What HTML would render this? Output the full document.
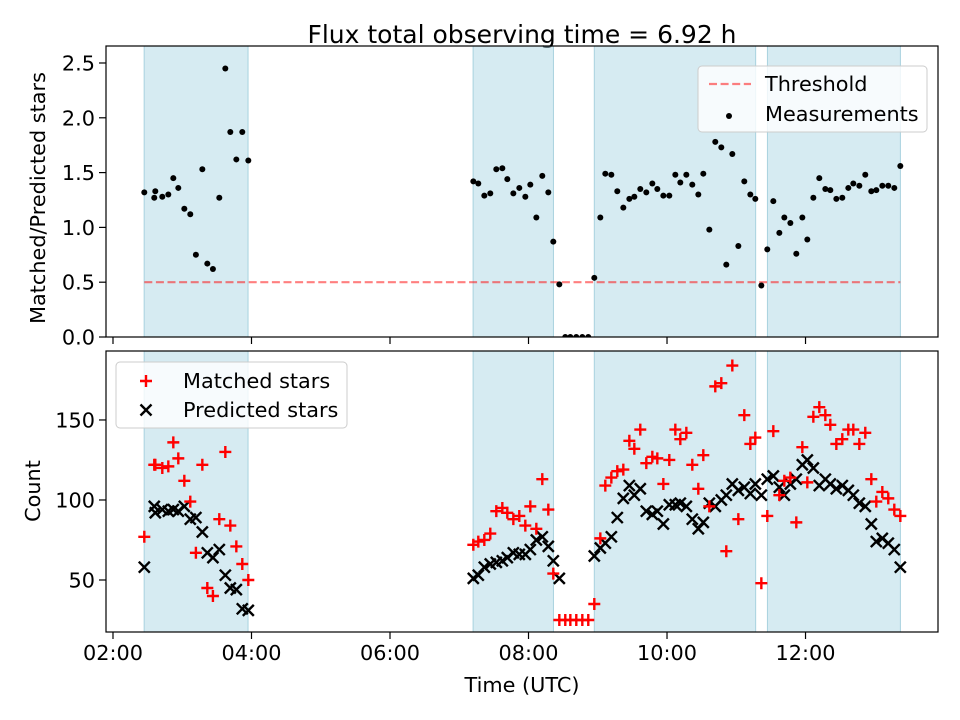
<!DOCTYPE html>
<html><head><meta charset="utf-8">
<style>
html,body{margin:0;padding:0;background:#fff;}
svg{display:block;font-family:"DejaVu Sans","Liberation Sans",sans-serif;}
</style></head>
<body>
<svg id="chart" width="960" height="720" viewBox="0 0 960 720" xmlns="http://www.w3.org/2000/svg">
<rect width="960" height="720" fill="#fff"/>
<text x="522" y="43" font-size="25" text-anchor="middle">Flux total observing time = 6.92 h</text>
<g id="topPanel"></g>
<g id="botPanel"></g>
<text transform="translate(45,198) rotate(-90)" font-size="20.8" text-anchor="middle">Matched/Predicted stars</text>
<text transform="translate(40,491) rotate(-90)" font-size="20.8" text-anchor="middle">Count</text>
<text x="522" y="692" font-size="20.8" text-anchor="middle">Time (UTC)</text>
</svg>
<script>
const times = [2.452,2.596,2.611,2.712,2.799,2.871,2.943,3.030,3.116,3.197,3.290,3.362,3.443,3.535,3.622,3.694,3.781,3.867,3.954,
7.203,7.275,7.362,7.448,7.535,7.622,7.694,7.781,7.867,7.954,8.026,8.113,8.199,8.286,8.358,8.445,8.531,8.604,8.690,8.777,8.863,
8.950,9.037,9.109,9.196,9.282,9.369,9.456,9.528,9.614,9.701,9.788,9.860,9.947,10.033,10.120,10.192,10.279,10.365,10.452,10.524,10.611,10.697,10.784,10.856,10.943,11.030,11.116,11.203,11.275,11.362,
11.448,11.535,11.622,11.694,11.781,11.867,11.954,12.026,12.113,12.199,12.286,12.358,12.445,12.531,12.618,12.690,12.777,12.863,12.950,13.022,13.109,13.195,13.282,13.369];
const ratios = [1.32,1.27,1.33,1.28,1.30,1.45,1.36,1.17,1.12,0.75,1.53,0.67,0.62,1.27,2.45,1.87,1.62,1.87,1.61,
1.42,1.40,1.29,1.31,1.53,1.54,1.44,1.31,1.36,1.28,1.39,1.09,1.47,1.32,0.87,0.48,0,0,0,0,0,
0.54,1.09,1.49,1.48,1.33,1.18,1.26,1.28,1.35,1.32,1.40,1.35,1.29,1.29,1.48,1.41,1.48,1.39,1.30,1.49,0.98,1.78,1.73,0.66,1.67,0.83,1.42,1.30,1.26,0.47,
0.80,1.24,0.95,1.09,1.04,0.76,1.09,0.89,1.27,1.45,1.35,1.34,1.26,1.27,1.36,1.40,1.38,1.48,1.33,1.34,1.38,1.38,1.36,1.56];
const matched = [77,122,122,120,121,136,126,112,99,67,122,45,40,88,130,84,71,60,50,
72,74,75,79,93,95,92,88,90,84,96,82,113,94,54,25,25,25,25,25,25,
35,76,109,114,118,119,137,132,144,123,127,126,110,125,144,138,142,122,107,128,96,171,173,68,184,88,153,135,139,48,
90,143,103,112,114,86,133,111,152,158,153,147,135,138,144,144,135,142,113,99,105,101,94,90];
const predicted = [58,96,92,94,93,94,93,96,88,89,80,67,64,69,53,45,44,32,31,
51,53,58,60,61,62,64,67,66,66,69,75,77,71,62,51,null,null,null,null,null,
65,70,73,77,89,101,109,103,107,93,91,93,85,97,97,98,96,88,82,86,98,96,100,103,110,106,108,104,110,103,
113,115,108,103,110,113,122,125,120,109,113,110,107,109,106,103,98,96,85,74,76,73,69,58];
const spanStarts = [2.45,7.2,8.95,11.45];
const spanEnds = [3.95,8.36,11.28,13.37];
const threshold = 0.5;
const xTickHours = [2,4,6,8,10,12];
const xTickLabels = ["02:00","04:00","06:00","08:00","10:00","12:00"];
const topTicks = [0,0.5,1,1.5,2,2.5];
const topTickLabels = ["0.0","0.5","1.0","1.5","2.0","2.5"];
const botTicks = [50,100,150];
const botTickLabels = ["50","100","150"];

const NS="http://www.w3.org/2000/svg";
const L=106,R=938, T1=46,B1=337, T2=351,B2=632;
const xMin=1.899,xMax=13.913;
const y1Min=0,y1Max=2.655, y2Min=17.5,y2Max=193.1;
const X=h=>L+(h-xMin)/(xMax-xMin)*(R-L);
const Y1=v=>B1-(v-y1Min)/(y1Max-y1Min)*(B1-T1);
const Y2=v=>B2-(v-y2Min)/(y2Max-y2Min)*(B2-T2);
function mk(p,tag,a){const e=document.createElementNS(NS,tag);for(const k in a)e.setAttribute(k,a[k]);p.appendChild(e);return e;}
const topG=document.getElementById('topPanel'), botG=document.getElementById('botPanel');

function panel(g,T,B,ticks,labels,Yf,showXLabels,nm){
  const cp=mk(g,'clipPath',{id:'clip'+nm});mk(cp,'rect',{x:L,y:T,width:R-L,height:B-T});
  const plot=mk(g,'g',{'clip-path':'url(#clip'+nm+')'});
  for(let i=0;i<spanStarts.length;i++){
    const r=mk(plot,'rect',{x:X(spanStarts[i]),y:T,width:X(spanEnds[i])-X(spanStarts[i]),height:B-T,fill:'#add8e6','fill-opacity':0.5,stroke:'#a8d2df','stroke-width':1});
    
    
  }
  for(let i=0;i<ticks.length;i++){
    const y=Yf(ticks[i]);
    mk(g,'line',{x1:L-7,x2:L,y1:y,y2:y,stroke:'#000','stroke-width':1.2});
    const t=mk(g,'text',{x:L-11,y:y+7.5,'font-size':20.8,'text-anchor':'end'});t.textContent=labels[i];
    
    
  }
  for(let i=0;i<xTickHours.length;i++){
    const x=X(xTickHours[i]);
    mk(g,'line',{x1:x,x2:x,y1:B,y2:B+7,stroke:'#000','stroke-width':1.2});
    if(showXLabels){const t=mk(g,'text',{x:x,y:B+28,'font-size':20.8,'text-anchor':'middle'});t.textContent=xTickLabels[i];
      
      }
  }
  return plot;
}
const p1=panel(topG,T1,B1,topTicks,topTickLabels,Y1,false,'1');
const p2=panel(botG,T2,B2,botTicks,botTickLabels,Y2,true,'2');

const th=mk(p1,'line',{x1:X(times[0]),x2:X(times[times.length-1]),y1:Y1(threshold),y2:Y1(threshold),stroke:'#ff0000','stroke-opacity':0.5,'stroke-width':2.2,'stroke-dasharray':'8,3.6'});


for(let i=0;i<times.length;i++){
  const c=mk(p1,'circle',{cx:X(times[i]),cy:Y1(ratios[i]),r:3,fill:'#000'});
  
  
}
function plus(g,x,y,s,col){mk(g,'path',{d:`M${x-s} ${y}H${x+s}M${x} ${y-s}V${y+s}`,stroke:col,'stroke-width':2.4,fill:'none'});}
function cross(g,x,y,s,col){mk(g,'path',{d:`M${x-s} ${y-s}L${x+s} ${y+s}M${x-s} ${y+s}L${x+s} ${y-s}`,stroke:col,'stroke-width':2.4,fill:'none'});}
for(let i=0;i<times.length;i++){
  if(predicted[i]!==null){
    const g=mk(p2,'g',{});
    
    
    cross(g,X(times[i]),Y2(predicted[i]),5.5,'#000');
  }
}
for(let i=0;i<times.length;i++){
  const g=mk(p2,'g',{});
  
  
  plus(g,X(times[i]),Y2(matched[i]),6,'#ff0000');
}
mk(topG,'rect',{x:L,y:T1,width:R-L,height:B1-T1,fill:'none',stroke:'#000','stroke-width':1.2});
mk(botG,'rect',{x:L,y:T2,width:R-L,height:B2-T2,fill:'none',stroke:'#000','stroke-width':1.2});

const lg1=mk(topG,'g',{});


mk(lg1,'rect',{x:698,y:66,width:229,height:66,rx:4,fill:'#fff','fill-opacity':0.8,stroke:'#ccc','stroke-width':1});
mk(lg1,'line',{x1:709,x2:751,y1:84,y2:84,stroke:'#ff0000','stroke-opacity':0.5,'stroke-width':2.2,'stroke-dasharray':'8,3.6'});
let t=mk(lg1,'text',{x:765,y:91,'font-size':20.8});t.textContent='Threshold';
mk(lg1,'circle',{cx:729,cy:116,r:3,fill:'#000'});
t=mk(lg1,'text',{x:765,y:121,'font-size':20.8});t.textContent='Measurements';

const lg2=mk(botG,'g',{});


mk(lg2,'rect',{x:116,y:362,width:231,height:66,rx:4,fill:'#fff','fill-opacity':0.8,stroke:'#ccc','stroke-width':1});
plus(lg2,146,381,6,'#ff0000');
t=mk(lg2,'text',{x:183,y:388,'font-size':20.8});t.textContent='Matched stars';
cross(lg2,146,410,5.5,'#000');
t=mk(lg2,'text',{x:183,y:417,'font-size':20.8});t.textContent='Predicted stars';
</script>
</body></html>
